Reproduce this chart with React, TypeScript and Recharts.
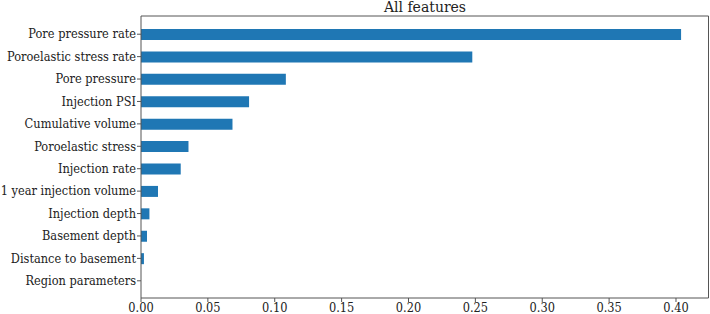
import React from "react";
import { BarChart, Bar, XAxis, YAxis, CartesianGrid } from "recharts";

const features = [
  "Pore pressure rate",
  "Poroelastic stress rate",
  "Pore pressure",
  "Injection PSI",
  "Cumulative volume",
  "Poroelastic stress",
  "Injection rate",
  "1 year injection volume",
  "Injection depth",
  "Basement depth",
  "Distance to basement",
  "Region parameters",
];

const importance = [
  0.4038, 0.2477, 0.1083, 0.0808, 0.0684, 0.0355, 0.0297, 0.0127, 0.0063,
  0.0045, 0.0022, 0.0,
];

const xTicks = [0, 0.05, 0.1, 0.15, 0.2, 0.25, 0.3, 0.35, 0.4];

const data = features.map((name, i) => ({ name, value: importance[i] }));

const font = "DejaVu Serif";
const axisColor = "#555";
const textColor = "#222";
const tickFont = 12;
const squeeze = 0.95; // reference glyphs are a bit narrow for their height

// plain text tick so long names don't get wrapped
const YTick = (props: any) => {
  const { x, y, payload } = props;
  return (
    <text
      transform={`translate(${x},${y}) scale(${squeeze},1)`}
      dy="0.35em"
      textAnchor="end"
      fontFamily={font}
      fontSize={tickFont}
      fill={textColor}
    >
      {payload.value}
    </text>
  );
};

const XTick = (props: any) => {
  const { x, y, payload } = props;
  return (
    <text
      transform={`translate(${x},${y}) scale(${squeeze},1)`}
      dy="0.71em"
      textAnchor="middle"
      fontFamily={font}
      fontSize={tickFont}
      fill={textColor}
    >
      {Number(payload.value).toFixed(2)}
    </text>
  );
};

export default function App() {
  return (
    <div style={{ position: "absolute", left: 0, top: 0, width: 710, height: 314, background: "#fff" }}>
      <svg width={710} height={20} style={{ position: "absolute", left: 0, top: 0 }}>
        <text x={425} y={12} textAnchor="middle" fontFamily={font} fontSize={14} fill={textColor}>
          All features
        </text>
      </svg>
      <BarChart
        width={710}
        height={314}
        data={data}
        layout="vertical"
        margin={{ top: 16, right: 1.5, bottom: 0, left: 0 }}
      >
        <CartesianGrid
          stroke={axisColor}
          strokeDasharray=""
          horizontalCoordinatesGenerator={({ offset }: any) => [offset.top]}
          verticalCoordinatesGenerator={({ offset }: any) => [offset.left + offset.width]}
        />
        <XAxis
          type="number"
          domain={[0, 0.4243]}
          ticks={xTicks}
          allowDataOverflow
          tick={<XTick />}
          tickSize={4}
          tickMargin={1}
          height={16}
          stroke={axisColor}
        />
        <YAxis
          type="category"
          dataKey="name"
          width={141}
          padding={{ top: 7, bottom: 6 }}
          tick={<YTick />}
          tickSize={4}
          tickMargin={1}
          interval={0}
          stroke={axisColor}
        />
        <Bar dataKey="value" fill="#1f77b4" barSize={11} isAnimationActive={false} />
      </BarChart>
    </div>
  );
}
